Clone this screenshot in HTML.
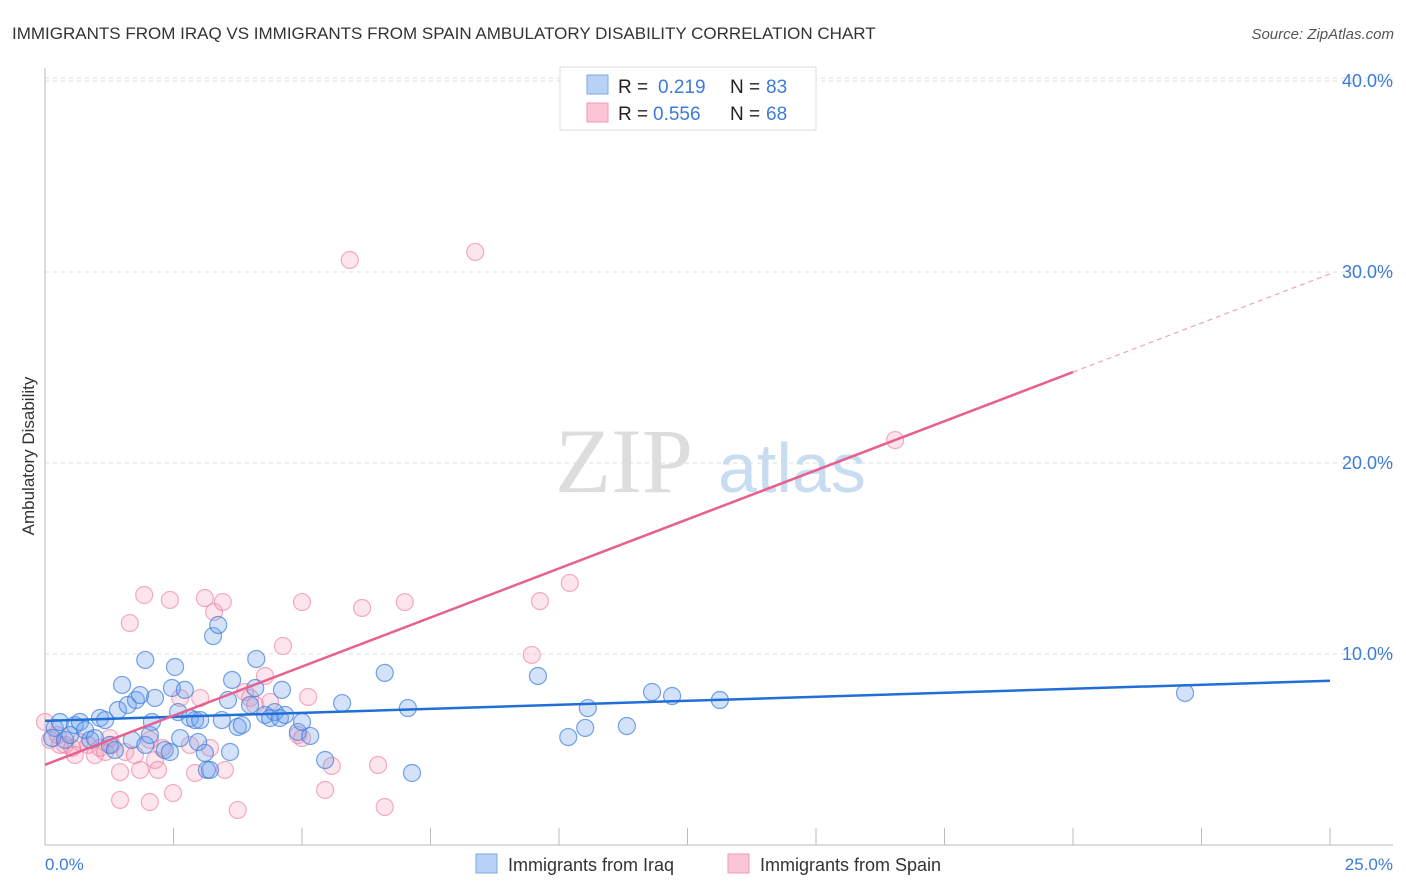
<!DOCTYPE html>
<html><head><meta charset="utf-8"><style>
body{margin:0;background:#fff;font-family:"Liberation Sans",sans-serif;}
svg{display:block}
</style></head><body>
<svg id="chart" width="1406" height="892" xmlns="http://www.w3.org/2000/svg">
<text x="12" y="39" font-size="17" fill="#333">IMMIGRANTS FROM IRAQ VS IMMIGRANTS FROM SPAIN AMBULATORY DISABILITY CORRELATION CHART</text>
<text x="1394" y="39" font-size="15" fill="#555" font-style="italic" text-anchor="end">Source: ZipAtlas.com</text>
<g id="grid"></g>
<line x1="45" y1="68" x2="45" y2="845" stroke="#bbb"/>
<line x1="45" y1="845" x2="1393" y2="845" stroke="#bbb"/>
<g id="xticks"></g>
<g id="yticks"></g>
<text x="555" y="492" font-size="92" fill="#ddd" font-family="Liberation Serif,serif">ZIP</text>
<text x="718" y="492" font-size="70" fill="#c8dcf2">atlas</text>
<text transform="translate(34,456) rotate(-90)" font-size="17" fill="#333" text-anchor="middle">Ambulatory Disability</text>
<text x="45" y="870" font-size="17" fill="#3d7bd8">0.0%</text>
<text x="1393" y="870" font-size="17" fill="#3d7bd8" text-anchor="end">25.0%</text>
<g id="pts"></g>
<g id="lines"></g>
<g>
<rect x="560" y="67" width="256" height="63" fill="#fff" stroke="#ddd"/>
<rect x="587" y="75" width="21" height="19" fill="#b8d2f5" stroke="#7aa8e6"/>
<rect x="587" y="103" width="21" height="19" fill="#fac6d6" stroke="#f09ab5"/>
<text x="618" y="93" font-size="19" fill="#222">R = </text><text x="658" y="93" font-size="19" fill="#3d7bd8">0.219</text>
<text x="730" y="93" font-size="19" fill="#222">N = </text><text x="766" y="93" font-size="19" fill="#3d7bd8">83</text>
<text x="618" y="120" font-size="19" fill="#222">R = </text><text x="653" y="120" font-size="19" fill="#3d7bd8">0.556</text>
<text x="730" y="120" font-size="19" fill="#222">N = </text><text x="766" y="120" font-size="19" fill="#3d7bd8">68</text>
</g>
<g>
<rect x="476" y="854" width="21" height="19" fill="#b8d2f5" stroke="#7aa8e6"/>
<text x="508" y="871" font-size="18" fill="#333">Immigrants from Iraq</text>
<rect x="728" y="854" width="21" height="19" fill="#fac6d6" stroke="#f09ab5"/>
<text x="760" y="871" font-size="18" fill="#333">Immigrants from Spain</text>
</g>
</svg>
<script>
const yTicks=[10,20,30,40];
const xTickVals=[0,2.5,5,7.5,10,12.5,15,17.5,20,22.5,25];
const iraqX=[0.19,0.14,0.29,0.39,0.49,0.58,0.68,0.78,0.88,0.97,1.07,1.17,1.26,1.36,1.42,1.50,1.61,1.69,1.77,1.85,1.95,2.04,2.08,2.14,1.95,2.33,2.43,2.47,2.53,2.59,2.63,2.72,2.82,2.92,2.98,3.02,3.11,3.15,3.21,3.27,3.37,3.44,3.56,3.60,3.64,3.75,3.83,3.99,4.09,4.11,4.28,4.38,4.47,4.57,4.61,4.67,4.92,5.00,5.16,5.45,5.78,6.61,7.06,7.14,9.59,10.18,10.51,10.56,11.32,11.81,12.20,13.13,22.18];
const iraqY=[6.13,5.60,6.44,5.50,5.76,6.28,6.44,6.02,5.50,5.60,6.65,6.54,5.24,4.97,7.07,8.38,7.33,5.50,7.59,7.85,5.24,5.76,6.44,7.70,9.69,4.97,4.87,8.22,9.32,6.96,5.60,8.12,6.65,6.54,5.39,6.54,4.82,3.93,3.93,10.94,11.52,6.54,7.59,4.87,8.64,6.18,6.28,7.33,8.22,9.74,6.81,6.65,6.96,6.65,8.12,6.81,5.92,6.44,5.71,4.45,7.43,9.01,7.17,3.77,8.85,5.65,6.13,7.17,6.23,8.01,7.80,7.59,7.96];
const spainX=[0,0.10,0.25,0.39,0.53,0.68,0.84,0.97,1.07,1.17,1.30,1.46,1.46,1.56,1.65,1.75,1.85,1.93,2.04,2.14,2.20,2.28,2.43,2.49,2.63,2.82,2.92,3.02,3.11,3.21,3.29,3.46,3.50,3.75,3.89,3.99,4.09,4.28,4.38,4.63,4.92,5.00,5.00,5.12,5.45,5.58,5.93,6.17,6.48,6.61,7.00,8.37,9.47,9.63,10.21,16.54,0.29,0.58,1.26,2.04];
const spainY=[6.44,5.50,5.76,5.24,5.08,5.39,5.24,4.71,5.08,4.87,5.24,3.82,2.36,4.87,11.62,4.71,3.93,13.09,2.25,4.45,3.93,5.08,12.83,2.72,7.70,5.24,3.77,7.70,12.93,5.08,12.20,12.72,3.93,1.83,8.01,7.70,7.33,8.85,7.49,10.42,5.76,12.72,5.60,7.75,2.88,4.14,30.63,12.41,4.19,1.99,12.72,31.05,9.95,12.77,13.72,21.20,5.24,4.71,5.60,5.50];
const iraqFit=[6.5,8.6];
const spainFit=[4.2,29.9];
const NS='http://www.w3.org/2000/svg';
const sx=v=>45+v*51.4;
const sy=v=>845-v*19.1;
function mk(tag,attrs,parent){const e=document.createElementNS(NS,tag);for(const k in attrs)e.setAttribute(k,attrs[k]);parent.appendChild(e);return e;}
const grid=document.getElementById('grid'),yt=document.getElementById('yticks'),xt=document.getElementById('xticks');
yTicks.forEach(t=>{
  const l=mk('line',{x1:45,x2:1393,y1:sy(t),y2:sy(t),stroke:'#ddd','stroke-dasharray':'4,4'},grid);
  
  
  const tx=mk('text',{x:1393,y:sy(t)+6,'font-size':18,fill:'#3d7bd8','text-anchor':'end'},yt);
  tx.textContent=t.toFixed(1)+'%';
  
  
});
mk('line',{x1:45,x2:1393,y1:78,y2:78,stroke:'#ddd','stroke-dasharray':'4,4'},grid);
xTickVals.forEach(v=>{
  const l=mk('line',{x1:sx(v),x2:sx(v),y1:828,y2:845,stroke:'#bbb'},xt);
  
  
});
const pts=document.getElementById('pts');
spainX.forEach((x,i)=>{
  const c=mk('circle',{cx:sx(x),cy:sy(spainY[i]),r:8.5,fill:'rgba(244,150,178,0.25)',stroke:'rgba(236,120,155,0.6)','stroke-width':1.2},pts);
  
  
});
iraqX.forEach((x,i)=>{
  const c=mk('circle',{cx:sx(x),cy:sy(iraqY[i]),r:8.5,fill:'rgba(110,160,235,0.3)',stroke:'rgba(60,125,220,0.7)','stroke-width':1.2},pts);
  
  
});
const lines=document.getElementById('lines');
const bl=mk('line',{x1:sx(0),y1:sy(iraqFit[0]),x2:sx(25),y2:sy(iraqFit[1]),stroke:'#1f6fd6','stroke-width':2.5},lines);


const pAt=v=>spainFit[0]+(spainFit[1]-spainFit[0])*v/25;
const pl=mk('line',{x1:sx(0),y1:sy(pAt(0)),x2:sx(20),y2:sy(pAt(20)),stroke:'#e8608e','stroke-width':2.5},lines);


const pd=mk('line',{x1:sx(20),y1:sy(pAt(20)),x2:sx(25),y2:sy(pAt(25)),stroke:'#f0a0bc','stroke-width':1.2,'stroke-dasharray':'5,4'},lines);


</script>
</body></html>
